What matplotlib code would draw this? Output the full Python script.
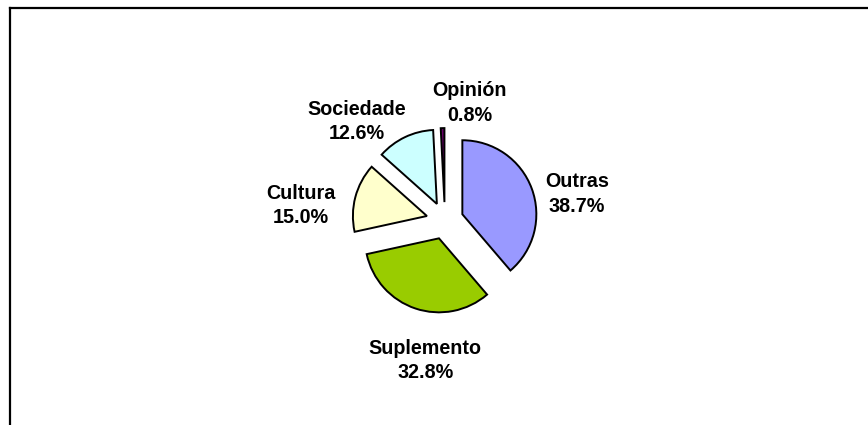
import matplotlib
matplotlib.use('Agg')
import matplotlib.pyplot as plt
from matplotlib.lines import Line2D

categories = ['Outras', 'Suplemento', 'Cultura', 'Sociedade', 'Opinión']
shares = [38.7, 32.8, 15.0, 12.6, 0.8]
colors = ['#9999FF', '#99CC00', '#FFFFCC', '#CCFFFF', '#660066']

# label centres in pie units (radius = 1)
label_pos = [(1.785, 0.36), (-0.265, -1.89), (-1.95, 0.21), (-1.19, 1.345), (0.33, 1.59)]

plt.rcParams['font.family'] = ['Liberation Sans', 'DejaVu Sans']

fig = plt.figure(figsize=(8.68, 4.25), dpi=100)
ax = fig.add_axes([0, 0, 1, 1])

scale = 74.0
cx, cy = 444.9, 220.7
wedges, _ = ax.pie(shares, colors=colors, startangle=90, counterclock=False,
                   explode=[18.6 / scale] * len(shares), radius=1,
                   wedgeprops=dict(edgecolor='black', linewidth=1.4))

for name, val, (lx, ly) in zip(categories, shares, label_pos):
    ax.text(lx, ly, f'{name}\n{val:.1f}%', ha='center', va='center',
            fontsize=14.2, fontweight='bold', linespacing=1.35)

ax.set_xlim(-cx / scale, (868 - cx) / scale)
ax.set_ylim(-(425 - cy) / scale, cy / scale)
ax.set_aspect('equal', adjustable='box')
ax.axis('off')

# chart frame, cut at right and bottom
fig.add_artist(Line2D([9.5 / 868, 1.0], [1 - 8 / 425] * 2, color='black', lw=1.6))
fig.add_artist(Line2D([9.5 / 868] * 2, [0, 1 - 8 / 425], color='black', lw=1.6))

fig.savefig('out.png', dpi=100)
